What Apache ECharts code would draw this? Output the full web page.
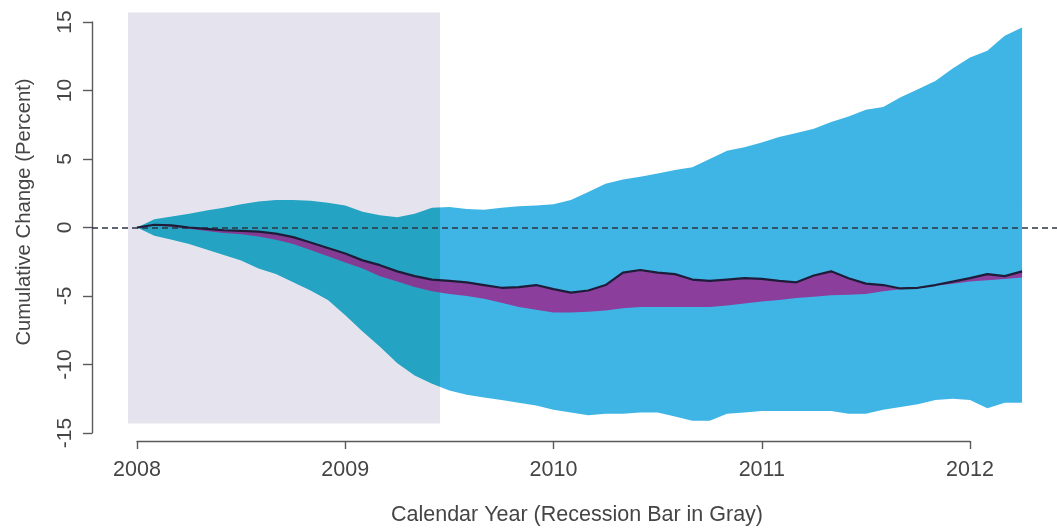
<!DOCTYPE html>
<html><head><meta charset="utf-8">
<script src="https://cdn.jsdelivr.net/npm/echarts@6/dist/echarts.min.js"></script>
<style>html,body{margin:0;padding:0;background:#fff}#c{width:1057px;height:529px}</style>
</head><body><div id="c"></div>
<script>
const months = [
  '2008-01','2008-02','2008-03','2008-04','2008-05','2008-06','2008-07','2008-08','2008-09','2008-10','2008-11','2008-12',
  '2009-01','2009-02','2009-03','2009-04','2009-05','2009-06','2009-07','2009-08','2009-09','2009-10','2009-11','2009-12',
  '2010-01','2010-02','2010-03','2010-04','2010-05','2010-06','2010-07','2010-08','2010-09','2010-10','2010-11','2010-12',
  '2011-01','2011-02','2011-03','2011-04','2011-05','2011-06','2011-07','2011-08','2011-09','2011-10','2011-11','2011-12',
  '2012-01','2012-02','2012-03','2012-04'
];
const upperBand = [
  0, 0.6, 0.8, 1.0, 1.25, 1.45, 1.7, 1.9, 2.0, 2.0, 1.95, 1.8,
  1.6, 1.15, 0.9, 0.75, 1.0, 1.45, 1.5, 1.35, 1.3, 1.45, 1.55, 1.6,
  1.7, 2.0, 2.6, 3.2, 3.5, 3.7, 3.95, 4.2, 4.4, 5.0, 5.6, 5.85,
  6.2, 6.6, 6.9, 7.2, 7.7, 8.1, 8.6, 8.8, 9.5, 10.1, 10.7, 11.6,
  12.4, 12.9, 14.0, 14.6
];
const lowerBand = [
  0, -0.6, -0.9, -1.2, -1.6, -2.0, -2.4, -3.0, -3.4, -4.0, -4.6, -5.3,
  -6.4, -7.6, -8.7, -9.9, -10.8, -11.4, -11.9, -12.2, -12.4, -12.6, -12.8, -13.0,
  -13.3, -13.5, -13.7, -13.6, -13.6, -13.5, -13.5, -13.8, -14.1, -14.1, -13.6, -13.5,
  -13.4, -13.4, -13.4, -13.4, -13.4, -13.6, -13.6, -13.3, -13.1, -12.9, -12.6, -12.5,
  -12.6, -13.2, -12.8, -12.8
];
const estimate = [
  0, 0.2, 0.15, 0, -0.1, -0.2, -0.25, -0.3, -0.45, -0.7, -1.1, -1.5,
  -1.9, -2.4, -2.75, -3.2, -3.55, -3.8, -3.9, -4.0, -4.2, -4.4, -4.35, -4.2,
  -4.5, -4.75, -4.6, -4.2, -3.3, -3.1, -3.3, -3.4, -3.8, -3.9, -3.8, -3.7,
  -3.75, -3.9, -4.0, -3.5, -3.2, -3.7, -4.1, -4.2, -4.45, -4.4, -4.2, -3.95,
  -3.7, -3.4, -3.55, -3.2
];
const purpleLower = [
  0, 0.15, 0.05, -0.1, -0.25, -0.4, -0.5, -0.65, -0.9, -1.2, -1.65, -2.1,
  -2.55, -3.0, -3.55, -3.95, -4.35, -4.65, -4.85, -5.0, -5.2, -5.5, -5.8, -6.0,
  -6.2, -6.2, -6.15, -6.05, -5.9, -5.8, -5.8, -5.8, -5.8, -5.8, -5.7, -5.55,
  -5.4, -5.3, -5.15, -5.05, -4.95, -4.9, -4.85, -4.65, -4.5, -4.45, -4.25, -4.1,
  -3.95, -3.85, -3.75, -3.65
];
const xTickMin = 2008, xTickMax = 2012, xTickStep = 1;
const yTickMin = -15, yTickMax = 15, yTickStep = 5;
const recessionStart = 2007.957, recessionEnd = 2009.455;
const recessionTop = 15.7, recessionBottom = -14.3;

const toYear = s => { const [y, m] = s.split('-').map(Number); return y + (m - 1) / 12; };
const t = months.map(toYear);
const pair = (arr) => arr.map((v, i) => [t[i], v]);
const rows = (hi, lo) => hi.map((v, i) => [t[i], v, lo[i]]);

// band polygon between two curves, colour split at the end of the recession bar
function bandRenderer(hi, lo, inside, outside) {
  return function (params, api) {
    if (params.dataIndex !== 0) return null;
    const top = hi.map((v, i) => api.coord([t[i], v]));
    const bot = lo.map((v, i) => api.coord([t[i], v])).reverse();
    const x0 = api.coord([t[0], 0])[0];
    const x1 = api.coord([t[t.length - 1], 0])[0];
    const xs = api.coord([recessionEnd, 0])[0];
    const f = Math.min(1, Math.max(0, (xs - x0) / (x1 - x0)));
    const fill = new echarts.graphic.LinearGradient(x0, 0, x1, 0, [
      {offset: 0, color: inside}, {offset: f, color: inside},
      {offset: f, color: outside}, {offset: 1, color: outside}
    ], true);
    return {type: 'polygon', shape: {points: top.concat(bot)}, style: {fill: fill, stroke: null}};
  };
}

const FONT = 'Liberation Sans, Arial, Helvetica, sans-serif';
const TXT = '#454545';
const AX = '#5a5a5a';

const chart = echarts.init(document.getElementById('c'), null, {renderer: 'canvas'});
chart.setOption({
  animation: false,
  backgroundColor: '#ffffff',
  grid: [
    {left: 92, width: 965, top: 8.3, height: 438.4},
    {left: 137, width: 833, top: 100, bottom: 88},
    {left: 92, width: 100, top: 22, height: 411}
  ],
  xAxis: [
    {gridIndex: 0, type: 'value', min: 2007.7839, max: 2012.4178, show: false},
    {gridIndex: 1, type: 'value', min: xTickMin, max: xTickMax, interval: xTickStep,
     axisLine: {show: true, onZero: false, lineStyle: {color: AX, width: 1.4}},
     axisTick: {show: true, length: 8, lineStyle: {color: AX, width: 1.4}},
     splitLine: {show: false},
     axisLabel: {color: TXT, fontSize: 21.5, fontFamily: FONT, margin: 18, formatter: v => String(v)}},
    {gridIndex: 2, type: 'value', min: 0, max: 1, show: false}
  ],
  yAxis: [
    {gridIndex: 0, type: 'value', min: -16, max: 16, show: false},
    {gridIndex: 1, type: 'value', min: 0, max: 1, show: false},
    {gridIndex: 2, type: 'value', min: yTickMin, max: yTickMax, interval: yTickStep,
     axisLine: {show: true, onZero: false, lineStyle: {color: AX, width: 1.4}},
     axisTick: {show: true, length: 9, lineStyle: {color: AX, width: 1.4}},
     splitLine: {show: false},
     axisLabel: {color: TXT, fontSize: 21, fontFamily: FONT, rotate: 90, margin: 16}}
  ],
  series: [
    {type: 'line', name: 'recession', xAxisIndex: 0, yAxisIndex: 0, data: pair(lowerBand),
     symbol: 'none', lineStyle: {opacity: 0}, z: 1, silent: true,
     markArea: {silent: true, itemStyle: {color: '#e5e4ee'},
       data: [[{xAxis: recessionStart, yAxis: recessionTop}, {xAxis: recessionEnd, yAxis: recessionBottom}]]}},
    {type: 'custom', name: 'ciBand', xAxisIndex: 0, yAxisIndex: 0, data: rows(upperBand, lowerBand),
     encode: {x: 0, y: [1, 2]}, z: 2, silent: true, clip: true,
     renderItem: bandRenderer(upperBand, lowerBand, '#24a4c2', '#3fb5e5')},
    {type: 'custom', name: 'purpleBand', xAxisIndex: 0, yAxisIndex: 0, data: rows(estimate, purpleLower),
     encode: {x: 0, y: [1, 2]}, z: 3, silent: true, clip: true,
     renderItem: bandRenderer(estimate, purpleLower, '#843b94', '#8b3e9c')},
    {type: 'line', name: 'estimate', xAxisIndex: 0, yAxisIndex: 0, data: pair(estimate),
     symbol: 'none', lineStyle: {color: '#1e1c38', width: 2.2}, z: 5, silent: true,
     markLine: {silent: true, symbol: 'none', label: {show: false},
       lineStyle: {color: '#2c3444', type: [6, 4], width: 1.6},
       data: [{yAxis: 0}]}}
  ],
  graphic: [
    {type: 'text', x: 24, y: 212, rotation: Math.PI / 2,
     style: {text: 'Cumulative Change (Percent)', fill: TXT, font: '20.3px ' + FONT, align: 'center', verticalAlign: 'middle'}},
    {type: 'text', x: 577, y: 515,
     style: {text: 'Calendar Year (Recession Bar in Gray)', fill: TXT, font: '21.5px ' + FONT, align: 'center', verticalAlign: 'middle'}}
  ]
});
</script>
</body></html>
